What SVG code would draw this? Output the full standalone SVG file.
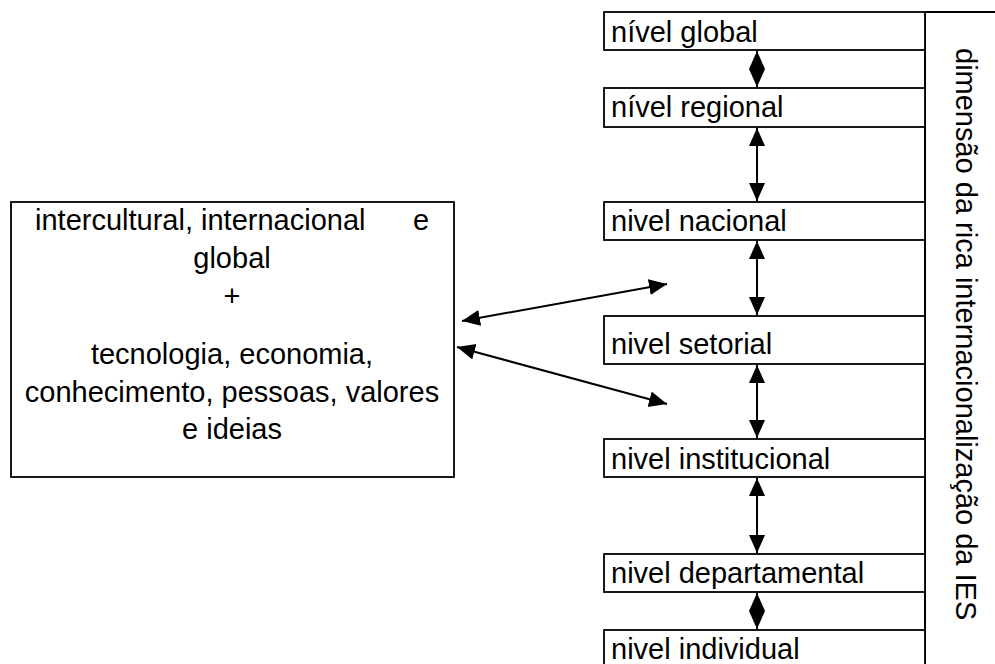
<svg xmlns="http://www.w3.org/2000/svg" width="995" height="664" viewBox="0 0 995 664">
<style>
.box{fill:#fff;stroke:#000;stroke-width:1.8}
.t{font-family:"Liberation Sans",Arial,sans-serif;font-size:29px;fill:#000}
.c{text-anchor:middle}
.ln{stroke:#000;stroke-width:2;fill:none}
</style>
<defs>
<marker id="ah" markerUnits="userSpaceOnUse" markerWidth="20" markerHeight="18" refX="18" refY="8" orient="auto-start-reverse">
<path d="M0,0 L18,8 L0,16 Z" fill="#000"/>
</marker>
</defs>
<rect width="995" height="664" fill="#fff"/>
<g id="frame">
<line class="ln" x1="925" y1="12" x2="995" y2="12"/>
<line class="ln" x1="925" y1="12" x2="925" y2="664"/>
</g>
<g id="left">
<rect class="box" x="11" y="202" width="443" height="275"/>
<text class="t" x="35" y="230">intercultural, internacional</text>
<text class="t" x="413" y="230">e</text>
<text class="t c" x="232" y="268">global</text>
<text class="t c" x="232" y="306">+</text>
<text class="t c" x="232" y="364">tecnologia, economia,</text>
<text class="t c" x="232" y="402">conhecimento, pessoas, valores</text>
<text class="t c" x="232" y="439">e ideias</text>
</g>
<g id="n1"><rect class="box" x="604" y="12" width="321" height="38"/><text class="t" x="611" y="42">nível global</text></g>
<g id="n2"><rect class="box" x="604" y="88" width="321" height="39"/><text class="t" x="611" y="117">nível regional</text></g>
<g id="n3"><rect class="box" x="604" y="202" width="321" height="38"/><text class="t" x="611" y="231">nivel nacional</text></g>
<g id="n4"><rect class="box" x="604" y="316" width="321" height="48"/><text class="t" x="611" y="354">nivel setorial</text></g>
<g id="n5"><rect class="box" x="604" y="439" width="321" height="38"/><text class="t" x="611" y="469">nivel institucional</text></g>
<g id="n6"><rect class="box" x="604" y="554" width="321" height="38"/><text class="t" x="611" y="583">nivel departamental</text></g>
<g id="n7"><rect class="box" x="604" y="630" width="321" height="40"/><text class="t" x="611" y="659">nivel individual</text></g>
<g id="side"><text class="t" transform="translate(956,48) rotate(90)">dimensão da rica internacionalização da IES</text></g>
<g id="connectors">
<line class="ln" x1="757" y1="51" x2="757" y2="87" marker-start="url(#ah)" marker-end="url(#ah)"/>
<line class="ln" x1="757" y1="128" x2="757" y2="201" marker-start="url(#ah)" marker-end="url(#ah)"/>
<line class="ln" x1="757" y1="241" x2="757" y2="315" marker-start="url(#ah)" marker-end="url(#ah)"/>
<line class="ln" x1="757" y1="365" x2="757" y2="438" marker-start="url(#ah)" marker-end="url(#ah)"/>
<line class="ln" x1="757" y1="478" x2="757" y2="553" marker-start="url(#ah)" marker-end="url(#ah)"/>
<line class="ln" x1="757" y1="593" x2="757" y2="629" marker-start="url(#ah)" marker-end="url(#ah)"/>
<line class="ln" x1="462" y1="321" x2="667" y2="284" marker-start="url(#ah)" marker-end="url(#ah)"/>
<line class="ln" x1="457" y1="347" x2="667" y2="404" marker-start="url(#ah)" marker-end="url(#ah)"/>
</g>
</svg>
